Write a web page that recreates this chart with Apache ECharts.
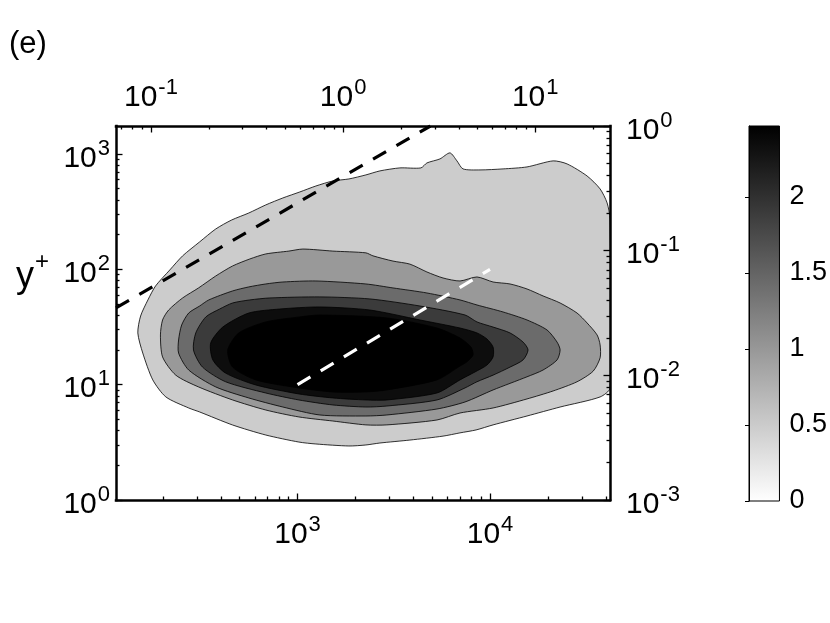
<!DOCTYPE html>
<html><head><meta charset="utf-8">
<script src="https://cdn.jsdelivr.net/npm/echarts@6/dist/echarts.min.js"></script>
<style>html,body{margin:0;padding:0;background:#fff}#c{width:830px;height:623px}</style>
</head><body><div id="c"></div>
<script>
// ---- tick values ----
const xMajor = [1000, 10000];
const xMinor = [200,300,400,500,600,700,800,900,2000,3000,4000,5000,6000,7000,8000,9000,20000,30000,40000];
const yMajor = [1, 10, 100, 1000];
const yMinor = [2,3,4,5,6,7,8,9,20,30,40,50,60,70,80,90,200,300,400,500,600,700,800,900];
const topMajor = [0.1, 1, 10];
const topMinor = [0.07,0.08,0.09,0.2,0.3,0.4,0.5,0.6,0.7,0.8,0.9,2,3,4,5,6,7,8,9,20];
const rightMajor = [0.001, 0.01, 0.1, 1];
const rightMinor = [0.002,0.003,0.004,0.005,0.006,0.007,0.008,0.009,0.02,0.03,0.04,0.05,0.06,0.07,0.08,0.09,0.2,0.3,0.4,0.5,0.6,0.7,0.8,0.9];
const cbTicks = [0, 0.5, 1, 1.5, 2];
const cbMax = 2.467;

// ---- contour regions [lambda_x+, y+] (outermost to innermost) ----
const contour1 = [[148,28.1],[153,39.4],[167,54.3],[183,71.8],[217,98.8],[253,131],[310,173],[376,224],[455,268],[558,308],[684,362],[839,416],[1028,469],[1245,528],[1526,584],[1848,608],[2265,659],[2679,714],[3403,758],[4376,758],[4700,837],[5494,907],[6193,1023],[6732,872],[7239,743],[8870,728],[11690,743],[15560,773],[21270,872],[25130,821],[31930,645],[37320,498],[40570,377],[42000,273],[42000,9.37],[37320,7.83],[23120,6.40],[15560,5.35],[10370,4.48],[8460,4.05],[6981,3.82],[5700,3.58],[3836,3.31],[2679,3.12],[2265,3.00],[1848,2.94],[1245,3.06],[1016,3.18],[684,3.66],[460,4.47],[310,5.80],[272,6.28],[207,7.83],[177,11.0],[157,18.8]];
const contour2 = [[194,27.0],[199,36.4],[214,44.4],[253,56.5],[306,69.0],[376,87.6],[460,107],[565,123],[684,136],[901,144],[1066,150],[1526,144],[2265,139],[2464,131],[3131,118],[3836,111],[4700,94.9],[5697,84.2],[6981,79.3],[8554,85.9],[10370,77.7],[12700,74.7],[15560,67.6],[18860,58.8],[23120,51.1],[28320,41.8],[31930,34.3],[35990,27.0],[37320,22.1],[37320,17.1],[34340,13.1],[28320,10.6],[21270,8.82],[15560,7.52],[10370,6.28],[6981,5.68],[5298,4.94],[2911,4.48],[2265,4.48],[1526,4.84],[1016,5.25],[684,6.03],[460,7.37],[306,9.56],[233,12.1],[199,17.4]];
const contour3 = [[241,24.4],[250,32.9],[272,41.8],[310,48.1],[346,54.3],[460,65.0],[558,70.4],[684,74.7],[839,77.7],[1245,79.3],[2265,74.7],[3131,69.0],[4700,62.4],[6981,54.3],[8554,49.1],[11690,42.7],[15560,36.4],[19780,29.8],[22300,23.4],[23120,20.0],[22300,16.4],[18860,13.4],[15560,11.7],[10370,9.00],[7414,7.08],[5298,6.15],[2911,5.46],[2265,5.35],[1306,5.46],[839,6.40],[558,7.67],[376,9.56],[272,13.4],[241,18.8]];
const contour4 = [[288,20.0],[296,28.1],[334,38.7],[394,45.3],[460,51.1],[565,54.3],[718,56.5],[1306,57.7],[2376,55.4],[4324,48.1],[7414,40.2],[8554,35.0],[10370,31.6],[12700,28.1],[14850,23.4],[15760,20.0],[14850,16.4],[12700,14.2],[10370,12.1],[8554,10.6],[7414,9.37],[5298,7.37],[2911,6.53],[2265,6.40],[1526,6.67],[1016,7.37],[684,8.47],[423,10.6],[321,14.2]];
const contour5 = [[354,23.0],[409,31.6],[558,41.8],[809,45.3],[1306,47.2],[2376,44.4],[4324,36.4],[6981,31.0],[8554,28.1],[9640,24.9],[10370,21.2],[10370,17.4],[9640,14.8],[8360,12.9],[6981,11.0],[5298,8.47],[2911,7.37],[2265,7.37],[1526,7.67],[1016,8.31],[607,9.94],[423,12.6],[363,16.4]];
const contour6 = [[434,20.0],[495,28.1],[684,35.0],[1028,38.7],[1306,40.2],[2911,37.9],[5298,31.0],[6981,25.4],[7963,21.2],[8160,18.1],[7588,15.8],[6981,14.5],[5298,11.0],[2911,9.00],[2265,8.65],[1526,8.65],[1016,9.37],[607,11.0],[460,14.2]];

// ---- reference lines ----
const blackLine = [[114, 46.3], [4900, 1750]];
const whiteLine = [[1000, 10], [10000, 100]];

const FONT = 'Liberation Sans, Arial, sans-serif';
const fills = ['#cccccc', '#999999', '#6b6b6b', '#3b3b3b', '#0d0d0d', '#000000'];
const contours = [contour1, contour2, contour3, contour4, contour5, contour6];

function powLabel(v) {
  const e = Math.round(Math.log10(v));
  return '{b|10}{e|' + e + '}';
}
const rich = {
  b: {fontSize: 30, fontFamily: FONT, color: '#000', lineHeight: 30, verticalAlign: 'bottom'},
  e: {fontSize: 22, fontFamily: FONT, color: '#000', lineHeight: 22, verticalAlign: 'bottom', padding: [0, 0, 14, 1]}
};

function majorAxis(common, majors, pos, margin, pad) {
  return Object.assign({
    type: 'log', position: pos, z: 10,
    axisLine: {show: true, onZero: false, lineStyle: {color: '#000', width: 2.5, cap: 'square'}},
    axisTick: {show: true, inside: true, length: 6.5, customValues: majors, lineStyle: {color: '#000', width: 1.3}},
    axisLabel: {show: true, customValues: majors, formatter: powLabel, rich: rich, margin: margin, padding: pad},
    splitLine: {show: false}, minorTick: {show: false}
  }, common);
}
function minorAxis(common, minors, pos) {
  return Object.assign({
    type: 'log', position: pos, z: 10,
    axisLine: {show: false, onZero: false},
    axisTick: {show: true, inside: true, length: 3.5, customValues: minors, lineStyle: {color: '#000', width: 1.3}},
    axisLabel: {show: false},
    splitLine: {show: false}
  }, common);
}

const xb = {gridIndex: 0, min: 114, max: 42000};
const xt = {gridIndex: 0, min: 0.0658, max: 24.5};
const yl = {gridIndex: 0, min: 0.99999, max: 1750};
const yr = {gridIndex: 0, min: 0.00099999, max: 1.00001};

const series = [];
contours.forEach(function (pts, i) {
  series.push({
    type: 'custom', xAxisIndex: 0, yAxisIndex: 0, z: 2 + i, silent: true, clip: true,
    data: [pts[0]],
    renderItem: function (params, api) {
      const p = pts.map(function (d) { return api.coord(d); });
      return {type: 'polygon', shape: {points: p, smooth: 0.25},
        style: {fill: fills[i], stroke: '#000', lineWidth: 0.8}};
    }
  });
});
series.push({type: 'line', xAxisIndex: 0, yAxisIndex: 0, z: 20, data: blackLine, showSymbol: false, silent: true, clip: true,
  lineStyle: {color: '#000', width: 3.2, type: [15, 12]}});
series.push({type: 'line', xAxisIndex: 0, yAxisIndex: 0, z: 20, data: whiteLine, showSymbol: false, silent: true, clip: true,
  lineStyle: {color: '#fff', width: 3.2, type: [15, 12]}});
// colorbar
series.push({
  type: 'custom', xAxisIndex: 4, yAxisIndex: 4, z: 2, silent: true,
  data: [[0, cbMax]],
  renderItem: function (params, api) {
    const a = api.coord([0, 0]);
    const b = api.coord([1, cbMax]);
    return {type: 'rect', shape: {x: a[0], y: b[1], width: b[0] - a[0], height: a[1] - b[1]},
      style: {fill: {type: 'linear', x: 0, y: 0, x2: 0, y2: 1, colorStops: [{offset: 0, color: '#000'}, {offset: 1, color: '#fff'}]},
        stroke: '#000', lineWidth: 1}};
  }
});

const option = {
  animation: false,
  backgroundColor: '#fff',
  grid: [{left: 116, top: 126, width: 494, height: 374}, {left: 749, top: 126, width: 32, height: 375}],
  xAxis: [
    majorAxis(xb, xMajor, 'bottom', 20, 0),
    majorAxis(xt, topMajor, 'top', 13, 0),
    minorAxis(xb, xMinor, 'bottom'),
    minorAxis(xt, topMinor, 'top'),
    {type: 'value', gridIndex: 1, min: 0, max: 1, show: false}
  ],
  yAxis: [
    majorAxis(yl, yMajor, 'left', 6, [9, 0, 0, 0]),
    majorAxis(yr, rightMajor, 'right', 16, [9, 0, 0, 0]),
    minorAxis(yl, yMinor, 'left'),
    minorAxis(yr, rightMinor, 'right'),
    {type: 'value', gridIndex: 1, min: 0, max: cbMax, position: 'right', z: 10,
      axisLine: {show: true, lineStyle: {color: '#000', width: 1}},
      axisTick: {show: true, inside: true, length: 4, customValues: cbTicks, lineStyle: {color: '#000', width: 1}},
      axisLabel: {show: true, customValues: cbTicks, margin: 10, fontSize: 27, fontFamily: FONT, color: '#000'},
      splitLine: {show: false}}
  ],
  series: series,
  graphic: [
    {type: 'text', left: 9, top: 29, style: {text: '(e)', font: '31px ' + FONT, fill: '#000'}},
    {type: 'text', left: 16, top: 259, style: {text: 'y', font: '36px ' + FONT, fill: '#000'}},
    {type: 'text', left: 35, top: 250, style: {text: '+', font: '24px ' + FONT, fill: '#000'}}
  ]
};
const chart = echarts.init(document.getElementById('c'), null, {renderer: 'canvas'});
chart.setOption(option);
</script></body></html>
